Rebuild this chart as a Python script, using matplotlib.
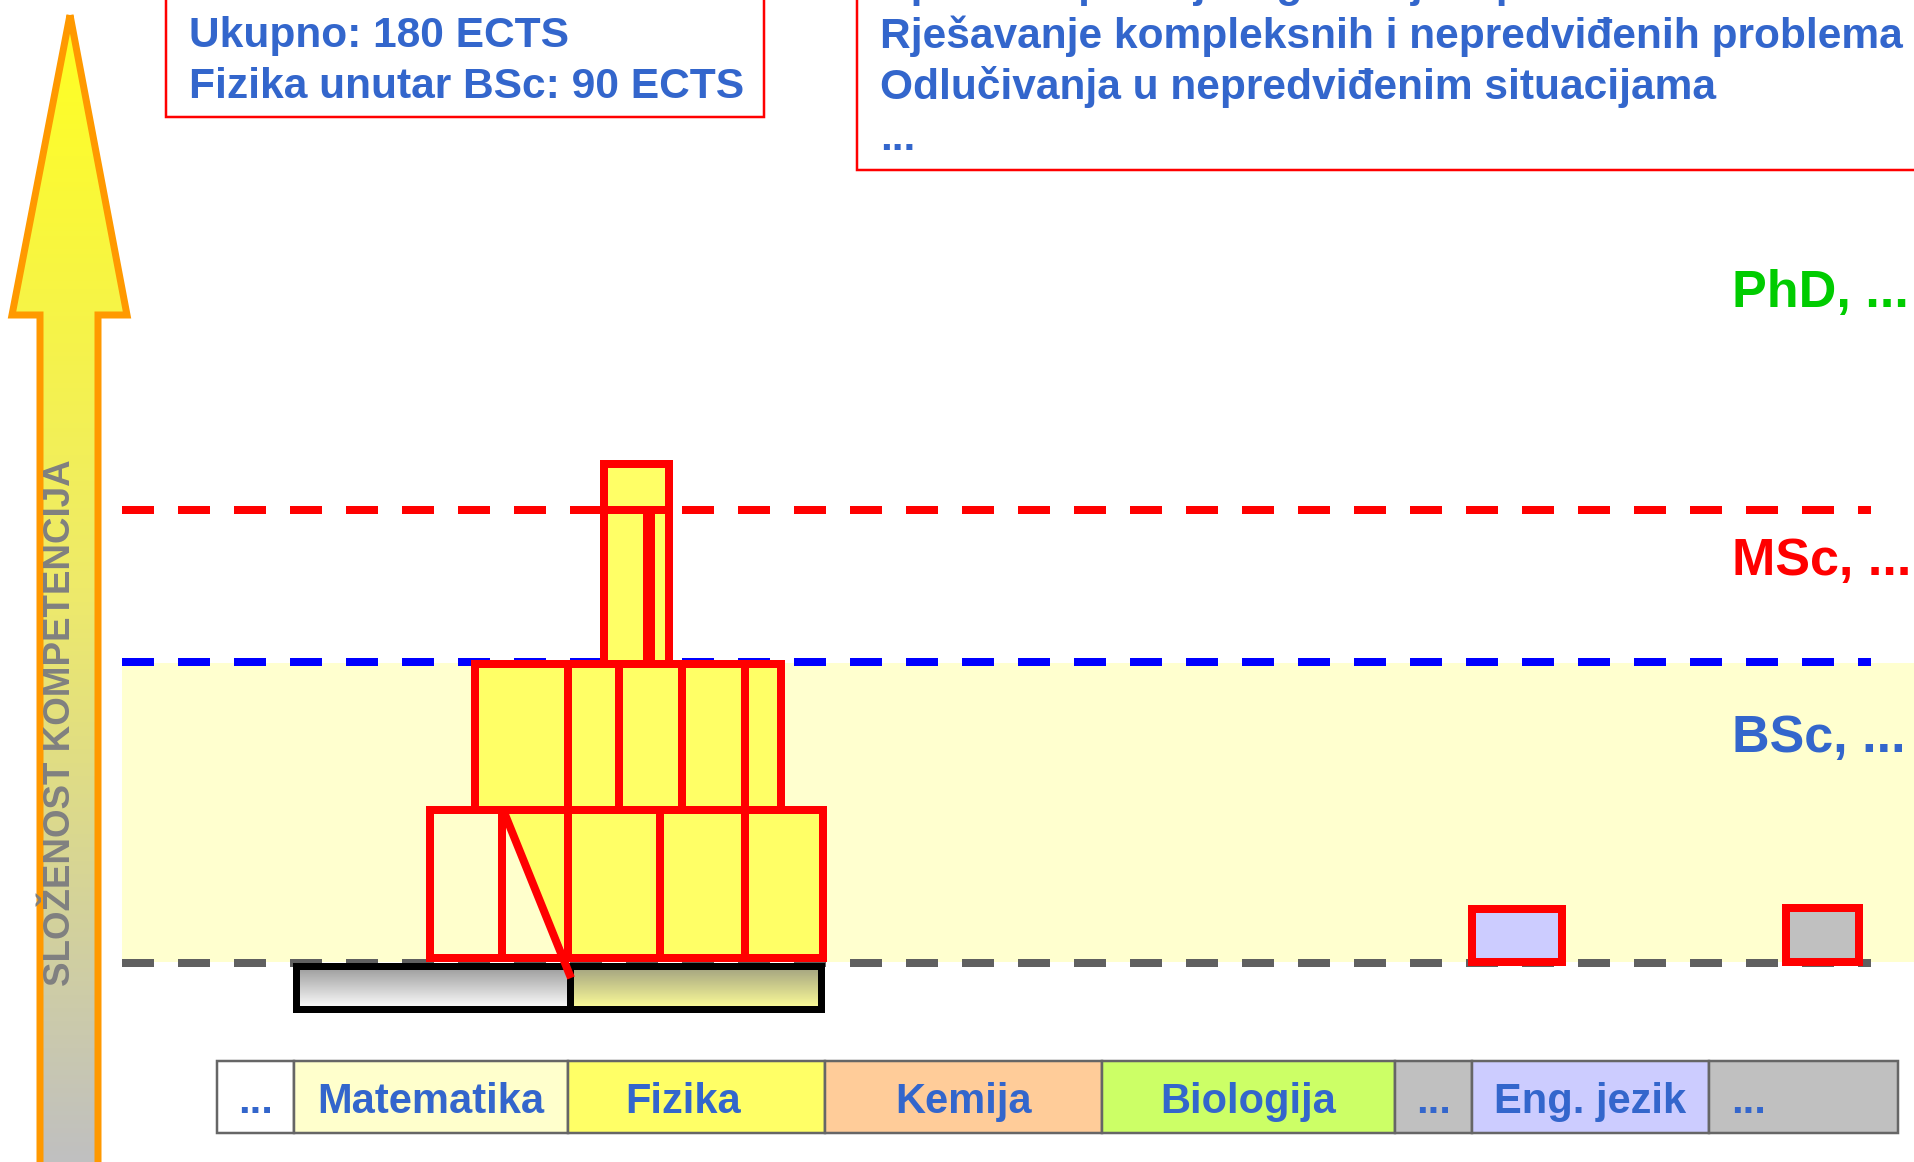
import numpy as np
import matplotlib
matplotlib.use("Agg")
import matplotlib.pyplot as plt
from matplotlib.patches import Rectangle, Polygon
from matplotlib.colors import LinearSegmentedColormap

plt.rcParams['font.family'] = ['Liberation Sans', 'DejaVu Sans']
plt.rcParams['lines.scale_dashes'] = False

W, H = 1914, 1162
PX = 0.72  # points per pixel at dpi 100

# ---------------- data ----------------
categories = ["...", "Matematika", "Fizika", "Kemija", "Biologija", "...", "Eng. jezik", "..."]
category_widths = [77, 274, 257, 277, 293, 77, 237, 189]
category_colors = ["#FFFFFF", "#FFFFCC", "#FFFF66", "#FFCC99", "#CCFF66", "#C0C0C0", "#CCCCFF", "#C0C0C0"]
category_start = 217
label_shift = [0, 0, -13, 0, 0, 0, 0, 0]

levels = ["PhD, ...", "MSc, ...", "BSc, ..."]
level_colors = ["#00CC00", "#FF0000", "#3366CC"]

# stacked physics blocks (left edge, width) per row, and row levels
row1_left = [430, 502, 568, 660, 745]
row1_width = [72, 66, 92, 85, 78]
row1_colors = ["#FFFFCC", "#FFFFCC", "#FFFF66", "#FFFF66", "#FFFF66"]
row2_left = [475, 568, 619, 682, 745]
row2_width = [93, 51, 63, 63, 36]
row3_left = [604, 649]
row3_width = [45, 20]
top_left, top_width = 604, 65
base_level, row1_top, row2_top, msc_level, top_level = 958, 810, 664, 510, 464

info_left = ["Ukupno: 180 ECTS", "Fizika unutar BSc: 90 ECTS"]
info_right = ["Upotreba postojećeg znanja u praksi",
              "Rješavanje kompleksnih i nepredviđenih problema",
              "Odlučivanja u nepredviđenim situacijama",
              "..."]

BLUE = "#3366CC"
RED = "#FF0000"

fig = plt.figure(figsize=(W / 100, H / 100), dpi=100)
ax = fig.add_axes([0, 0, 1, 1])
ax.set_xlim(0, W)
ax.set_ylim(H, 0)
ax.axis('off')

# background band (BSc level)
ax.add_patch(Rectangle((122, 663), W - 122, 962 - 663, facecolor="#FFFFCF", edgecolor='none', zorder=0))

# dashed level lines
dash = (32 * PX, 24 * PX)
for y, c in [(963, "#606060"), (662, "#0000FF"), (510, RED)]:
    ax.plot([122, 1871], [y, y], color=c, lw=8 * PX, dashes=dash, solid_capstyle='butt',
            dash_capstyle='butt', zorder=1)

# ---------------- arrow ----------------
arrow_pts = [(70, 15), (127, 315), (98, 315), (98, 1180), (40, 1180), (40, 315), (12, 315)]
arrow = Polygon(arrow_pts, closed=True, facecolor='none', edgecolor="#FF9900", lw=7 * PX, zorder=3,
                joinstyle='miter')
ax.add_patch(arrow)
cmap_arrow = LinearSegmentedColormap.from_list("arr", ["#FFFF22", "#EEEA6A", "#C0C0C0"])
grad = np.linspace(0, 1, 256).reshape(-1, 1)
im = ax.imshow(grad, cmap=cmap_arrow, extent=[10, 130, 1162, 15], aspect='auto', zorder=2,
               interpolation='bilinear')
clip = Polygon(arrow_pts, closed=True, transform=ax.transData)
im.set_clip_path(clip)
ax.text(61, 723, "SLOŽENOST KOMPETENCIJA", rotation=90, ha='center', va='center',
        color="#808080", fontsize=26.5, fontweight='bold', zorder=4)

# ---------------- black bar with gradients ----------------
cm_grey = LinearSegmentedColormap.from_list("g", ["#999999", "#FFFFFF"])
cm_yel = LinearSegmentedColormap.from_list("y", ["#A0A080", "#FFFF99"])
ax.imshow(grad, cmap=cm_grey, extent=[296, 570, 1009, 966], aspect='auto', zorder=2)
ax.imshow(grad, cmap=cm_yel, extent=[570, 821, 1009, 966], aspect='auto', zorder=2)
ax.add_patch(Rectangle((296, 966), 274, 43, facecolor='none', edgecolor='black', lw=7 * PX, zorder=3))
ax.add_patch(Rectangle((570, 966), 251, 43, facecolor='none', edgecolor='black', lw=7 * PX, zorder=3))

# ---------------- blocks ----------------
blk = dict(edgecolor=RED, linewidth=8 * PX, align='edge')
ax.bar(row1_left, [row1_top - base_level] * len(row1_left), width=row1_width, bottom=base_level,
       color=row1_colors, zorder=5, **blk)
# triangle in second bottom block
ax.add_patch(Polygon([(504, 812), (568, 812), (568, 958)], closed=True, facecolor="#FFFF66",
                     edgecolor='none', zorder=6))
ax.plot([504, 571], [812, 978], color=RED, lw=8 * PX, zorder=7, solid_capstyle='butt')
# redraw block edges over triangle
ax.bar(row1_left[1:3], [row1_top - base_level] * 2, width=row1_width[1:3], bottom=base_level,
       color='none', zorder=7, **blk)
ax.bar(row2_left, [row2_top - row1_top] * len(row2_left), width=row2_width, bottom=row1_top,
       color="#FFFF66", zorder=8, **blk)
ax.bar(row3_left, [msc_level - row2_top] * 2, width=row3_width, bottom=row2_top,
       color="#FFFF66", zorder=9, **blk)
# thick divider between the two narrow columns
ax.bar([643], [msc_level - row2_top], width=[12], bottom=row2_top, align='edge',
       color=RED, edgecolor='none', zorder=10)
ax.bar([top_left], [top_level - msc_level], width=[top_width], bottom=msc_level,
       color="#FFFF66", zorder=9, **blk)

# other small blocks (English, ...)
ax.bar([1472, 1786], [-53, -54], width=[90, 73], bottom=[962, 962],
       color=["#CCCCFF", "#C0C0C0"], zorder=5, **blk)

# ---------------- category bar ----------------
lefts = category_start + np.concatenate([[0], np.cumsum(category_widths)[:-1]])
ax.barh([1097], category_widths, height=72, left=lefts,
        color=category_colors, edgecolor="#666666", linewidth=2.5 * PX, zorder=3)
for i, (lab, l, w, s) in enumerate(zip(categories, lefts, category_widths, label_shift)):
    if i == len(categories) - 1:
        ax.text(l + 22, 1113, lab, ha='left', va='baseline', color=BLUE, fontsize=30,
                fontweight='bold', zorder=4)
    else:
        ax.text(l + w / 2 + s, 1113, lab, ha='center', va='baseline', color=BLUE, fontsize=30,
                fontweight='bold', zorder=4)

# ---------------- level labels ----------------
for lab, c, y in zip(levels, level_colors, [307, 575, 752]):
    ax.text(1732, y, lab, ha='left', va='baseline', color=c, fontsize=37.5, fontweight='bold', zorder=10)

# ---------------- info boxes ----------------
ax.add_patch(Rectangle((166, -20), 598, 137, facecolor='none', edgecolor=RED, lw=2.5 * PX, zorder=3))
for t, y in zip(info_left, [47, 98]):
    ax.text(189, y, t, ha='left', va='baseline', color=BLUE, fontsize=30.6, fontweight='bold', zorder=4)
ax.add_patch(Rectangle((857, -20), 1100, 190, facecolor='none', edgecolor=RED, lw=2.5 * PX, zorder=3))
for t, y in zip(info_right, [-3, 48, 99, 150]):
    ax.text(880, y, t, ha='left', va='baseline', color=BLUE, fontsize=30.6, fontweight='bold', zorder=4)

ax.set_xlim(0, W)
ax.set_ylim(H, 0)
fig.savefig("out.png", dpi=100, facecolor='white')
